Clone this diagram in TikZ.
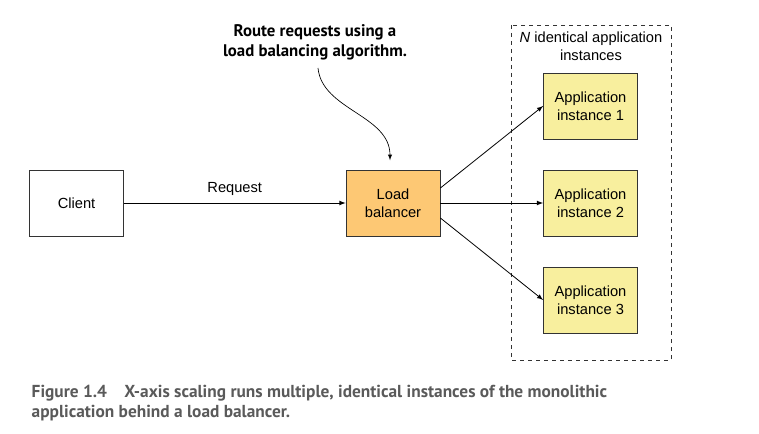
\documentclass[tikz,border=0pt]{standalone}
\usepackage{fontspec}
\setmainfont{Liberation Sans}
\newfontfamily\notefont{PT Sans}
\usepackage{tikz}
\usetikzlibrary{arrows,shapes,positioning}
\definecolor{lbfill}{HTML}{FDC874}
\definecolor{appfill}{HTML}{F8EF9E}
\definecolor{capgray}{HTML}{5A5A5A}

\begin{document}
\begin{tikzpicture}[x=0.75pt,y=-0.75pt]
                \tikzstyle{every node}+=[font=\fontsize{11}{13.5}\selectfont]
                \tikzstyle{box}=[draw=black!80,line width=0.6pt,minimum width=70.5pt,minimum height=49.5pt,align=center,inner sep=0pt]
                \tikzstyle{conn}=[draw,line width=0.6pt,-latex]
                \useasboundingbox (0,0) rectangle (759,434);
                % boxes
                \node [box] (client) at (76.5,203) {Client};
                \node [box,fill=lbfill] (lb) at (393,203) {Load\\balancer};
                \draw [black!80,dashed,line width=0.6pt] (511,25) rectangle (671,360);
                \node (n) at (591,46) [align=center] {\textit{N} identical application\\instances};
                \node [box,fill=appfill] (app1) at (590.5,106) {Application\\instance 1};
                \node [box,fill=appfill] (app2) at (590.5,203) {Application\\instance 2};
                \node [box,fill=appfill] (app3) at (590.5,300) {Application\\instance 3};
                % connectors
                \draw [conn] (client) -- node [above=2pt] {Request} (lb);
                \draw [conn] (lb.east) ++(0,-15) -- (app1.west);
                \draw [conn] (lb) -- (app2);
                \draw [conn] (lb.east) ++(0,15) -- (app3.west);
                % note
                \node (note) at (315,42) [align=center,font=\notefont\bfseries\fontsize{12.6}{15}\selectfont] {Route requests using a\\load balancing algorithm.};
                \coordinate (tail) at (318,68);
                \draw [line width=0.5pt,-latex,shorten >=7pt] (tail) .. controls (322,110) and (390,115) .. (lb.north -| 390,0);
                % caption
                \node (cap) at (27,403) [anchor=west,align=left,text=capgray,font=\notefont\bfseries\fontsize{13}{15}\selectfont] {Figure 1.4\quad X-axis scaling runs multiple, identical instances of the monolithic\\application behind a load balancer.};
            \end{tikzpicture}
\end{document}
